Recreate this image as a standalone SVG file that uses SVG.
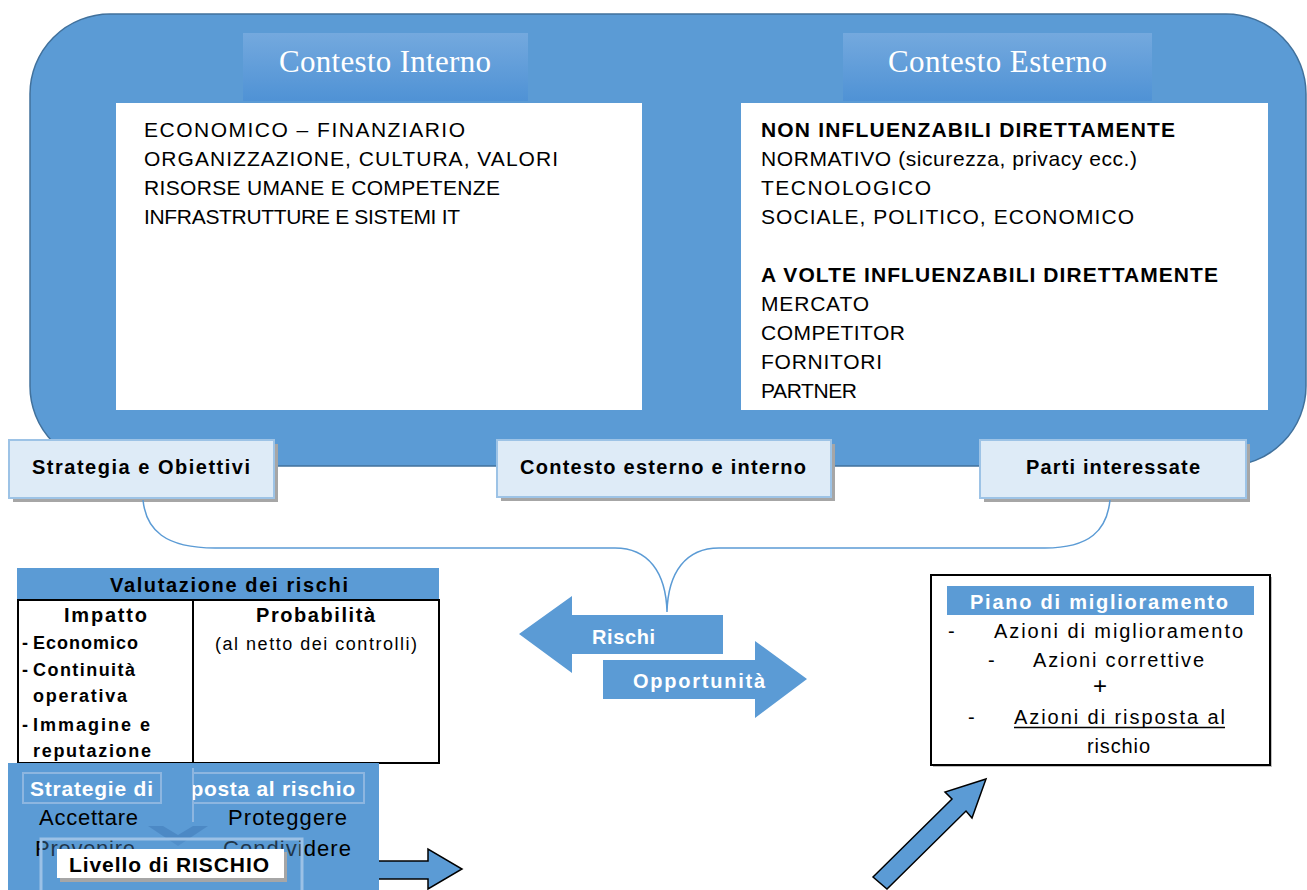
<svg xmlns="http://www.w3.org/2000/svg" width="1307" height="890" viewBox="0 0 1307 890">
<style>
text{font-family:"Liberation Sans",Arial,sans-serif;fill:#000}
.hdr{font-family:"Liberation Serif","Times New Roman",serif;font-size:31px;fill:#fff}
.lst{font-size:21px}
.b{font-weight:bold}
.lbl{font-size:20px;font-weight:bold}
.w{fill:#fff}
.lightbox{fill:#DEEBF7;stroke:#9DC3E6;stroke-width:2}
.shadow{fill:#A6A6A6}
.blue{fill:#5B9BD5}
</style>
<defs>
<linearGradient id="hg" x1="0" y1="0" x2="0" y2="1">
<stop offset="0" stop-color="#74A9DE"/>
<stop offset="1" stop-color="#4F92D5"/>
</linearGradient>
<clipPath id="clipR"><rect x="193" y="770" width="180" height="40"/></clipPath>
</defs>

<g id="contesto">
<rect x="30" y="14" width="1276" height="452" rx="80" ry="80" fill="#5B9BD5" stroke="#41719C" stroke-width="1.5"/>
</g>

<g id="contesto-interno">
<rect x="243" y="33" width="285" height="68" fill="url(#hg)"/>
<text class="hdr" x="279" y="72" textLength="212">Contesto Interno</text>
<rect x="116" y="103" width="526" height="307" fill="#fff"/>
<text class="lst" x="144" y="137" textLength="321">ECONOMICO – FINANZIARIO</text>
<text class="lst" x="144" y="166" textLength="414">ORGANIZZAZIONE, CULTURA, VALORI</text>
<text class="lst" x="144" y="195" textLength="356">RISORSE UMANE E COMPETENZE</text>
<text class="lst" x="144" y="224" textLength="316">INFRASTRUTTURE E SISTEMI IT</text>
</g>

<g id="contesto-esterno">
<rect x="843" y="33" width="309" height="68" fill="url(#hg)"/>
<text class="hdr" x="888" y="72" textLength="219">Contesto Esterno</text>
<rect x="741" y="103" width="527" height="307" fill="#fff"/>
<text class="lst b" x="761" y="137" textLength="414">NON INFLUENZABILI DIRETTAMENTE</text>
<text class="lst" x="761" y="166" textLength="376">NORMATIVO (sicurezza, privacy ecc.)</text>
<text class="lst" x="761" y="195" textLength="170">TECNOLOGICO</text>
<text class="lst" x="761" y="224" textLength="373">SOCIALE, POLITICO, ECONOMICO</text>
<text class="lst b" x="761" y="282" textLength="457">A VOLTE INFLUENZABILI DIRETTAMENTE</text>
<text class="lst" x="761" y="311" textLength="108">MERCATO</text>
<text class="lst" x="761" y="340" textLength="144">COMPETITOR</text>
<text class="lst" x="761" y="369" textLength="121">FORNITORI</text>
<text class="lst" x="761" y="398" textLength="96">PARTNER</text>
</g>

<g id="strategia">
<rect class="shadow" x="13" y="444" width="265" height="58"/>
<rect class="lightbox" x="9" y="440" width="265" height="58"/>
<text class="lbl" x="32" y="474" textLength="218">Strategia e Obiettivi</text>
</g>
<g id="contesto-ei">
<rect class="shadow" x="501" y="444" width="334" height="57"/>
<rect class="lightbox" x="497" y="440" width="334" height="57"/>
<text class="lbl" x="520" y="474" textLength="286">Contesto esterno e interno</text>
</g>
<g id="parti">
<rect class="shadow" x="984" y="444" width="266" height="58"/>
<rect class="lightbox" x="980" y="440" width="266" height="58"/>
<text class="lbl" x="1026" y="474" textLength="174">Parti interessate</text>
</g>

<g id="connectors" fill="none">
<path d="M143,500 C146,530 165,548 215,548 L615,548 C648,548 666,572 667,612 C668,572 686,548 719,548 L1045,548 C1090,548 1107,530 1110,500" stroke="#5B9BD5" stroke-width="1.5"/>
<path d="M873,877 L952,799 L945,792 L986,779 L972,818 L966,811 L887,889 Z" fill="#5B9BD5" stroke="#000" stroke-width="1.5"/>
<path d="M329,861 L428,861 L428,849 L462,869 L428,889 L428,879 L329,879 Z" fill="#5B9BD5" stroke="#000" stroke-width="1.5"/>
</g>

<g id="rischi">
<path class="blue" d="M519,634 L572,596 L572,615 L723,615 L723,654 L572,654 L572,673 Z"/>
<text class="b w" x="592" y="644" font-size="20" textLength="63">Rischi</text>
</g>
<g id="opportunita">
<path class="blue" d="M603,660 L755,660 L755,641 L807,679 L755,718 L755,699 L603,699 Z"/>
<text class="b w" x="633" y="688" font-size="20" textLength="132">Opportunità</text>
</g>

<g id="valutazione">
<rect class="blue" x="17" y="568" width="422" height="31"/>
<text class="b" x="110" y="592" font-size="20" textLength="238">Valutazione dei rischi</text>
<rect x="18" y="600" width="421" height="163" fill="#fff" stroke="#000" stroke-width="2"/>
<line x1="193" y1="600" x2="193" y2="763" stroke="#000" stroke-width="2"/>
<text class="b" x="64" y="622" font-size="20" textLength="83">Impatto</text>
<text class="b" x="256" y="622" font-size="20" textLength="119">Probabilità</text>
<text x="215" y="650" font-size="18" textLength="202">(al netto dei controlli)</text>
<text class="b" x="22" y="649" font-size="18">-</text><text class="b" x="33" y="649" font-size="18" textLength="105">Economico</text>
<text class="b" x="22" y="676" font-size="18">-</text><text class="b" x="33" y="676" font-size="18" textLength="102">Continuità</text>
<text class="b" x="33" y="702" font-size="18" textLength="94">operativa</text>
<text class="b" x="22" y="731" font-size="18">-</text><text class="b" x="33" y="731" font-size="18" textLength="117">Immagine e</text>
<text class="b" x="33" y="757" font-size="18" textLength="118">reputazione</text>
</g>

<g id="strategie-risposta">
<rect class="blue" x="8" y="763" width="371" height="127"/>
<rect x="23" y="773" width="138" height="30" fill="none" stroke="#8DB6E0" stroke-width="2"/>
<rect x="193" y="773" width="171" height="30" fill="none" stroke="#8DB6E0" stroke-width="2"/>
<line x1="193" y1="768" x2="193" y2="822" stroke="#8DB6E0" stroke-width="2"/>
<text class="b w" x="30" y="796" font-size="21" textLength="123">Strategie di</text>
<text class="b w" x="178" y="796" font-size="21" textLength="177" clip-path="url(#clipR)">sposta al rischio</text>
<text x="39" y="825" font-size="22" textLength="99">Accettare</text>
<text x="228" y="825" font-size="22" textLength="119">Proteggere</text>
<text x="35" y="856" font-size="22" textLength="100">Prevenire</text>
<text x="223" y="856" font-size="22" textLength="128">Condividere</text>
<path d="M148,826 L163,826 L178,835 L193,826 L208,826 L178,846 Z" fill="#4A86C2" opacity="0.85"/>
<rect x="41" y="839" width="261" height="60" fill="#5B9BD5" fill-opacity="0.35" stroke="#9CC1E6" stroke-width="3"/>
</g>

<g id="livello">
<rect class="shadow" x="60" y="852" width="227" height="30"/>
<rect x="57" y="849" width="227" height="29" fill="#fff"/>
<text class="b" x="69" y="872" font-size="21" textLength="200">Livello di RISCHIO</text>
</g>

<g id="piano">
<rect x="933" y="577" width="339" height="190" fill="#BFBFBF"/>
<rect x="931" y="575" width="339" height="190" fill="#fff" stroke="#000" stroke-width="2"/>
<rect class="blue" x="947" y="586" width="307" height="29"/>
<text class="b w" x="970" y="609" font-size="20" textLength="258">Piano di miglioramento</text>
<text x="948" y="638" font-size="20">-</text>
<text x="994" y="638" font-size="20" textLength="249">Azioni di miglioramento</text>
<text x="988" y="667" font-size="20">-</text>
<text x="1033" y="667" font-size="20" textLength="171">Azioni correttive</text>
<text x="1100" y="694" font-size="24" text-anchor="middle">+</text>
<text x="968" y="724" font-size="20">-</text>
<text x="1014" y="724" font-size="20" textLength="211">Azioni di risposta al</text>
<line x1="1014" y1="727.5" x2="1225" y2="727.5" stroke="#000" stroke-width="1.5"/>
<text x="1087" y="753" font-size="20" textLength="63">rischio</text>
</g>
</svg>
